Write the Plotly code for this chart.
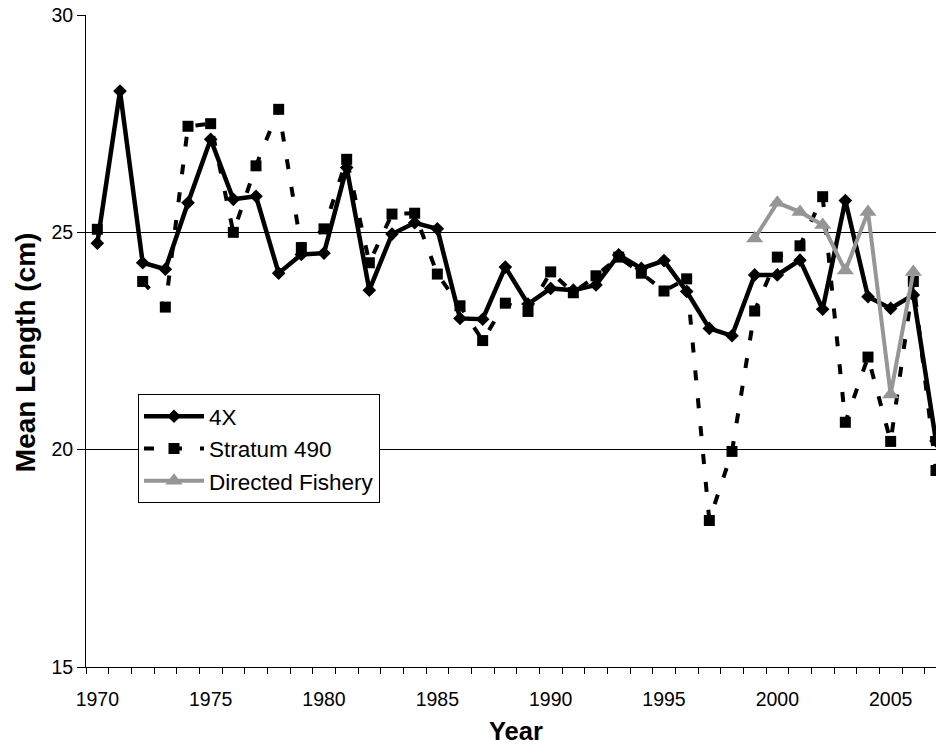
import plotly.graph_objects as go

years = list(range(1970, 2008))

len_4x = [24.75, 28.25, 24.30, 24.15, 25.68, 27.14, 25.76, 25.83, 24.06, 24.49,
          24.52, 26.49, 23.67, 24.96, 25.22, 25.08, 23.02, 23.00, 24.20, 23.35,
          23.71, 23.67, 23.79, 24.48, 24.17, 24.35, 23.64, 22.79, 22.62, 24.02,
          24.02, 24.36, 23.23, 25.73, 23.52, 23.25, 23.56, 20.20]

len_stratum = [25.07, None, 23.87, 23.28, 27.44, 27.50, 25.00, 26.53, 27.83, 24.65,
               25.08, 26.68, 24.30, 25.42, 25.44, 24.04, 23.31, 22.51, 23.37, 23.18,
               24.09, 23.61, 24.00, 24.43, 24.06, 23.65, 23.93, 18.37, 19.96, 23.19,
               24.43, 24.69, 25.82, 20.63, 22.13, 20.19, 23.87, 19.52]

fish_years = [1999, 2000, 2001, 2002, 2003, 2004, 2005, 2006]
len_fishery = [24.86, 25.68, 25.47, 25.17, 24.12, 25.47, 21.27, 24.09]

x_tick_vals = [1970, 1975, 1980, 1985, 1990, 1995, 2000, 2005]
y_tick_vals = [15, 20, 25, 30]

FONT = "Arial, Liberation Sans, sans-serif"

fig = go.Figure()
fig.add_trace(go.Scatter(
    x=years, y=len_4x, name="4X", mode="lines+markers",
    line=dict(color="black", width=4.5),
    marker=dict(symbol="diamond", size=10.5, color="black"),
))
fig.add_trace(go.Scatter(
    x=years, y=len_stratum, name="Stratum 490", mode="lines+markers",
    connectgaps=False,
    line=dict(color="black", width=4, dash="10px,18px"),
    marker=dict(symbol="square", size=11, color="black"),
))
fig.add_trace(go.Scatter(
    x=fish_years, y=len_fishery, name="Directed Fishery", mode="lines+markers",
    line=dict(color="#969696", width=4),
    marker=dict(symbol="triangle-up", size=15, color="#969696"),
))

fig.update_layout(
    width=936, height=747,
    margin=dict(l=86, r=0, t=15, b=80),
    paper_bgcolor="white", plot_bgcolor="white",
    font=dict(family=FONT, color="black"),
    showlegend=True,
    legend=dict(
        x=(138 - 86) / 850, y=(667 - 394) / 652.3,
        xanchor="left", yanchor="top",
        bgcolor="white", bordercolor="black", borderwidth=1,
        font=dict(family=FONT, size=22.5, color="black"),
        itemwidth=60, tracegroupgap=0,
    ),
    xaxis=dict(
        range=[1969.5, 2007.0],
        tickmode="array", tickvals=x_tick_vals,
        ticks="", showgrid=False, zeroline=False,
        showline=True, linecolor="black", linewidth=1,
        ticklabelstandoff=15,
        tickfont=dict(family=FONT, size=19.5, color="black"),
        minor=dict(tick0=1969.5, dtick=1, ticks="outside", ticklen=6,
                   tickcolor="black", tickwidth=1, showgrid=False),
    ),
    yaxis=dict(
        range=[15, 30], tickmode="array", tickvals=y_tick_vals,
        ticks="outside", ticklen=8, tickcolor="black", tickwidth=1,
        showgrid=True, gridcolor="black", gridwidth=1,
        zeroline=False, showline=True, linecolor="black", linewidth=1,
        tickfont=dict(family=FONT, size=19.5, color="black"),
    ),
    annotations=[
        dict(text="<b>Year</b>", xref="paper", yref="paper",
             x=(516 - 86) / 850, y=-(731 - 667) / 652.3,
             xanchor="center", yanchor="middle", showarrow=False,
             font=dict(family=FONT, size=25.5, color="black")),
        dict(text="<b>Mean Length (cm)</b>", xref="paper", yref="paper",
             x=(25 - 86) / 850, y=(667 - 352) / 652.3, textangle=-90,
             xanchor="center", yanchor="middle", showarrow=False,
             font=dict(family=FONT, size=28, color="black")),
    ],
)

fig.write_html("out.html")
